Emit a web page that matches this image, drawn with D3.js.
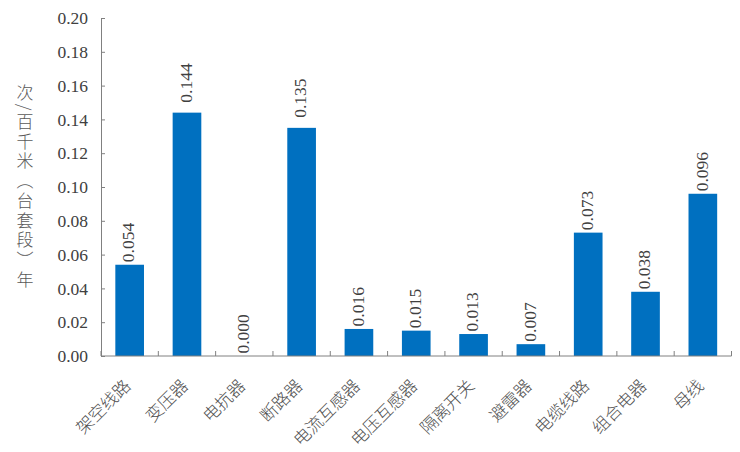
<!DOCTYPE html>
<html><head><meta charset="utf-8">
<script src="https://cdn.jsdelivr.net/npm/d3@7"></script>
<style>
body{margin:0;background:#fff;}
</style></head>
<body><svg id="c" width="740" height="452"></svg>
<script>
const categories = ["架空线路","变压器","电抗器","断路器","电流互感器","电压互感器","隔离开关","避雷器","电缆线路","组合电器","母线"];
const values = [0.054,0.144,0.000,0.135,0.016,0.015,0.013,0.007,0.073,0.038,0.096];
const yTicks = [0,0.02,0.04,0.06,0.08,0.10,0.12,0.14,0.16,0.18,0.20];
const yTitle = "次/百千米（台套段）年";

(function(){
const SERIF = '"Liberation Serif","Times New Roman","DejaVu Serif",serif';
const CJK = '"Noto Sans CJK SC"';
const svg = d3.select("#c");
const mLeft = 101, mRight = 731.5, mTop = 18, mBottom = 356;
const x = d3.scaleBand().domain(categories).range([mLeft, mRight]).paddingInner(0.5).paddingOuter(0.25);
const y = d3.scaleLinear().domain([0, 0.2]).range([mBottom, mTop]);
const axisColor = "#808080";
const textColor = "#404040";

// bars
svg.append("g").selectAll("rect").data(values).join("rect")
  .attr("x", (d,i) => x(categories[i]))
  .attr("width", x.bandwidth())
  .attr("y", d => y(d))
  .attr("height", d => y(0) - y(d))
  .attr("fill", "#0070c0");

// y axis
const ya = svg.append("g").attr("transform", `translate(${mLeft},0)`)
  .call(d3.axisLeft(y).tickValues(yTicks).tickFormat(d3.format(".2f")).tickSizeInner(-4).tickSizeOuter(-4).tickPadding(13));
ya.select(".domain").attr("stroke", axisColor);
ya.selectAll(".tick line").attr("stroke", axisColor);
ya.selectAll("text").style("font-family", SERIF).style("font-size", "17.5px").style("fill", textColor);

// x axis
const xa = svg.append("g").attr("transform", `translate(0,${mBottom})`);
xa.append("line").attr("x1", mLeft).attr("x2", mRight).attr("stroke", axisColor);
const bounds = d3.range(categories.length + 1).map(i => mLeft + i * x.step());
xa.selectAll("line.t").data(bounds).join("line").attr("class","t")
  .attr("x1", d => d).attr("x2", d => d).attr("y1", 0).attr("y2", -5).attr("stroke", axisColor);
xa.selectAll("text").data(categories).join("text")
  .attr("transform", d => `translate(${x(d) + x.bandwidth()/2 + 2},${31}) rotate(-45)`)
  .attr("text-anchor", "end")
  .style("font-family", CJK).style("font-size", "17px").style("font-weight", 300)
  .style("fill", "#505050")
  .text(d => d);

// value labels
svg.append("g").selectAll("text").data(values).join("text")
  .attr("transform", (d,i) => `translate(${x(categories[i]) + x.bandwidth()/2 - 1},${y(d) - (d >= 0.12 ? 10 : 2.5)}) rotate(-90)`)
  .attr("text-anchor", "start")
  .attr("dy", "0.33em")
  .style("font-family", SERIF).style("font-size", "17.5px").style("fill", textColor)
  .text(d => d3.format(".3f")(d));

// y title, vertical
svg.append("text")
  .attr("x", 25).attr("y", 84)
  .style("writing-mode", "vertical-rl")
  .style("font-family", CJK).style("font-size", "17px").style("font-weight", 300)
  .style("letter-spacing", "2.7px")
  .style("fill", "#595959")
  .text(yTitle);
})();
</script></body></html>
